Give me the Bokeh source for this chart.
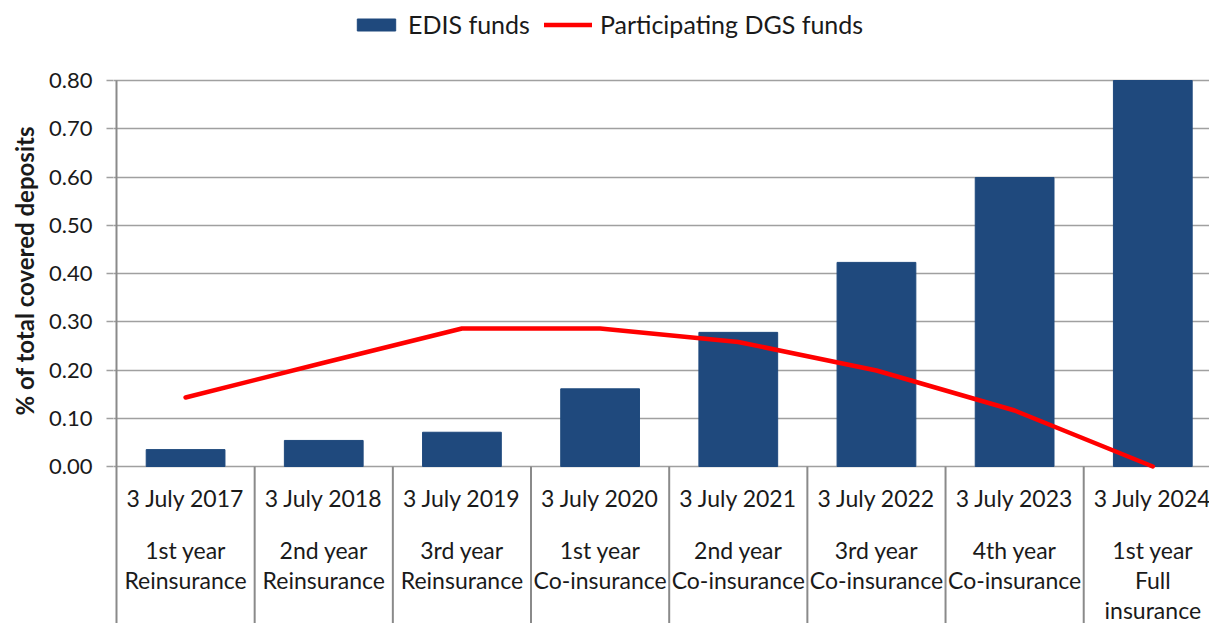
from bokeh.plotting import figure
from bokeh.models import (ColumnDataSource, Range1d, FixedTicker, Legend, LegendItem,
                          Title, NumeralTickFormatter)
from bokeh.embed import file_html
from bokeh.resources import INLINE
from bokeh.core.properties import value

# ---------------- data ----------------
dates = ["3 July 2017", "3 July 2018", "3 July 2019", "3 July 2020",
         "3 July 2021", "3 July 2022", "3 July 2023", "3 July 2024"]
phases = ["1st year\nReinsurance", "2nd year\nReinsurance", "3rd year\nReinsurance",
          "1st year\nCo-insurance", "2nd year\nCo-insurance", "3rd year\nCo-insurance",
          "4th year\nCo-insurance", "1st year\nFull\ninsurance"]
edis_funds = [0.035, 0.054, 0.071, 0.161, 0.278, 0.423, 0.599, 0.800]
dgs_funds = [0.143, 0.215, 0.286, 0.286, 0.258, 0.199, 0.116, 0.000]
y_ticks = [0.0, 0.1, 0.2, 0.3, 0.4, 0.5, 0.6, 0.7, 0.8]

FONT = "Lato"
TXT = "#1a1a1a"
GRID = "#a0a0a0"
SEP = "#8a8a8a"
BAR = "#1F497D"
RED = "#FF0000"

n = len(dates)
xs = list(range(n))

W, H = 1209, 623
PX_UNIT_Y = 482.5          # pixels per 1.0 on y
PX_UNIT_X = 138.3          # pixels per category
frame_left = 112           # px from figure left
axis_px = 115              # first category boundary in figure px
top_px = 80                # position of the 0.80 gridline
zero_px = 466              # position of the 0.00 gridline
y_top = 0.8 + top_px / PX_UNIT_Y
y_bot = -(H - zero_px) / PX_UNIT_Y
x_start = -0.5 - (axis_px - frame_left) / PX_UNIT_X
x_end = -0.5 + (W - axis_px) / PX_UNIT_X

p = figure(width=W, height=H, output_backend="svg", toolbar_location=None,
           x_range=Range1d(x_start, x_end), y_range=Range1d(y_bot, y_top),
           min_border=0, min_border_left=frame_left, min_border_right=0)
p.outline_line_color = None
p.background_fill_color = "white"
p.border_fill_color = "white"

# axes
p.xaxis.visible = False
p.xgrid.visible = False
yax = p.yaxis[0]
yax.ticker = FixedTicker(ticks=y_ticks)
yax.formatter = NumeralTickFormatter(format="0.00")
yax.axis_line_color = None
yax.major_tick_out = 7
yax.major_tick_in = 0
yax.minor_tick_line_color = None
yax.major_tick_line_color = GRID
yax.major_tick_line_width = 1.5
yax.major_label_standoff = 14
yax.major_label_text_font = FONT
yax.major_label_text_font_size = "22px"
yax.major_label_text_color = TXT
p.ygrid.ticker = FixedTicker(ticks=y_ticks)
p.ygrid.grid_line_color = GRID
p.ygrid.grid_line_width = 1.5

# y axis title as a left-side title
p.add_layout(Title(text="% of total covered deposits", align="left", offset=H - 415,
                   text_font=FONT, text_font_size="24px", text_font_style="bold",
                   text_color=TXT, standoff=15), "left")

# separators / vertical axis line
bounds = [i - 0.5 for i in range(n + 1)]
p.segment(x0=bounds, x1=bounds, y0=[0.0] * len(bounds), y1=[y_bot] * len(bounds),
          line_color=SEP, line_width=2)
p.segment(x0=[-0.5], x1=[-0.5], y0=[y_ticks[-1]], y1=[0.0], line_color=SEP, line_width=2)

# bars and line
src = ColumnDataSource(dict(x=xs, edis=edis_funds, dgs=dgs_funds))
bars = p.vbar(x="x", top="edis", bottom=0, width=0.57, source=src,
              fill_color=BAR, line_color=BAR)
line = p.line(x="x", y="dgs", source=src, line_color=RED, line_width=4.5,
              line_cap="round", line_join="round")

# category labels (multi-line, built from the arrays)
lx, ltext, loff = [], [], []
for i, (d, ph) in enumerate(zip(dates, phases)):
    lx.append(i); ltext.append(d); loff.append(31)
    for j, part in enumerate(ph.split("\n")):
        lx.append(i); ltext.append(part); loff.append(83 + 30 * j)
lab_src = ColumnDataSource(dict(x=lx, y=[0.0] * len(lx), text=ltext, yoff=loff))
p.text(x="x", y="y", text="text", y_offset="yoff", source=lab_src,
       text_font=value(FONT), text_font_size="23px", text_color=TXT,
       text_align="center", text_baseline="middle")

# legend
legend = Legend(items=[LegendItem(label="EDIS funds", renderers=[bars]),
                       LegendItem(label="Participating DGS funds", renderers=[line])],
                orientation="horizontal", location=(351 - frame_left, H - 10 - 29),
                glyph_width=48, glyph_height=15, label_standoff=8, spacing=14,
                padding=0, margin=0, border_line_color=None,
                background_fill_alpha=0, label_text_font=FONT,
                label_text_font_size="25px", label_text_color=TXT)
p.add_layout(legend)

open("out.html", "w").write(file_html(p, INLINE))
